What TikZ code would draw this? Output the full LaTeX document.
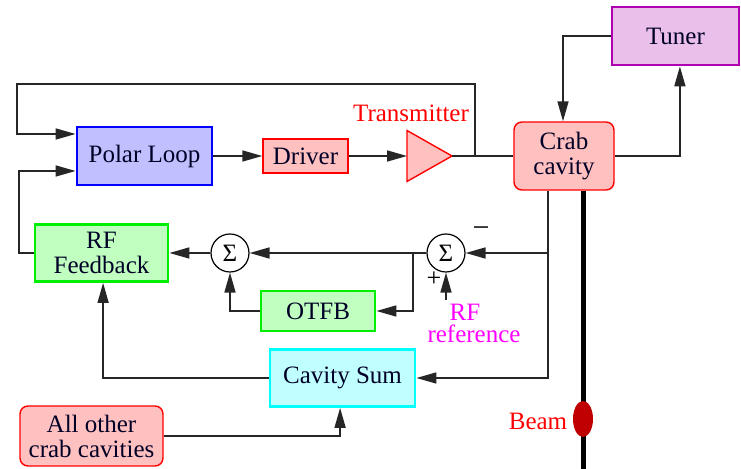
\documentclass[tikz,border=0pt]{standalone}
\usepackage{fontspec}
\setmainfont{Liberation Serif}
\usetikzlibrary{arrows.meta,shapes.geometric}
\definecolor{pinkfill}{HTML}{FFC0C0}
\definecolor{lavfill}{HTML}{C0C0FF}
\definecolor{tunfill}{HTML}{EAC0EA}
\definecolor{tundraw}{HTML}{B000B0}
\definecolor{grnfill}{HTML}{C0FFC0}
\definecolor{grndraw}{HTML}{00EE00}
\definecolor{cyfill}{HTML}{C0FFFF}
\definecolor{cydraw}{HTML}{00FFFF}
\definecolor{beamred}{HTML}{C00000}
\definecolor{refmag}{HTML}{FF00FF}
\begin{document}
\begin{tikzpicture}[x=0.5pt,y=-0.5pt,
  box/.style={draw, inner sep=0pt, align=center, font=\fontsize{12.5}{12.5}\selectfont, text=black!85!blue},
  arr/.style={-{Triangle[length=10pt,width=5.5pt]}, line width=0.8pt, black!85},
  ln/.style={line width=0.8pt, black!85},
  sig/.style={circle, draw, fill=white, line width=0.6pt, minimum size=19pt, inner sep=0pt, font=\fontsize{12.5}{12.5}\selectfont}]
\useasboundingbox (0,0) rectangle (741,469);
% boxes
\node[box, fill=lavfill, draw=blue, line width=1.4pt, minimum width=67.5pt, minimum height=29pt] (polar) at (144.5,156) {Polar Loop};
\node[box, fill=pinkfill, draw=red, line width=0.7pt, minimum width=42.5pt, minimum height=17pt] (driver) at (305.5,156) {Driver};
\node[box, fill=pinkfill, draw=red, line width=0.7pt, rounded corners=4pt, minimum width=50pt, minimum height=34pt] (crab) at (564,156) {Crab\\cavity};
\node[box, fill=tunfill, draw=tundraw, line width=1.4pt, minimum width=63.5pt, minimum height=29pt] (tuner) at (675.5,36) {Tuner};
\node[box, fill=grnfill, draw=grndraw, line width=1.4pt, minimum width=66.5pt, minimum height=28.5pt] (rffb) at (101.5,253) {RF\\Feedback};
\node[box, fill=grnfill, draw=grndraw, line width=1.4pt, minimum width=57pt, minimum height=20pt] (otfb) at (318,311) {OTFB};
\node[box, fill=cyfill, draw=cydraw, line width=1.4pt, minimum width=72.5pt, minimum height=28.5pt] (cavsum) at (342.5,378) {Cavity Sum};
\node[box, fill=pinkfill, draw=red, line width=0.7pt, rounded corners=4pt, minimum width=71.5pt, minimum height=30pt] (other) at (91.5,436) {All other\\crab cavities};
\node[sig] (sig1) at (230,253) {Σ};
\node[sig] (sig2) at (446,253) {Σ};
% transmitter
\coordinate (tin) at (407,156);
\coordinate (tout) at (452,156);
\draw[fill=pinkfill, draw=red, line width=0.7pt] (407,130.5) -- (452,156) -- (407,181.5) -- cycle;
\node[text=red, font=\fontsize{12.5}{12.5}\selectfont] (txlabel) at (411,113) {Transmitter};
% labels
\node[font=\fontsize{15}{15}\selectfont] (minus) at (481,232) {−};
\node[font=\fontsize{13}{13}\selectfont] (plus) at (434,279) {+};
\node[text=refmag, align=center, inner sep=0pt, font=\fontsize{12.5}{11}\selectfont] (rfreflabel) at (474,323.5) {RF\hspace*{9pt}\\reference};
% beam
\draw[line width=2.5pt] ([xshift=9.5pt]crab.south) -- (583,469);
\node[ellipse, fill=beamred, minimum width=10pt, minimum height=18pt, inner sep=0pt] (beam) at (583,419) {};
\node[text=red, font=\fontsize{12.5}{12.5}\selectfont] (beamlabel) at (538,421) {Beam};
% connectors
\coordinate (y134) at (0,134);
\coordinate (y171) at (0,171);
\coordinate (j1) at (475,156);
\coordinate (b2) at (548,253);
\coordinate (b3) at (413,253);
\coordinate (rfref) at (446,300);
\coordinate (l17) at (17,84);
\coordinate (l19) at (19,253);
\draw[arr] (polar) -- (driver);
\draw[arr] (driver) -- (tin);
\draw[ln] (tout) -- (crab.west);
\draw[arr] (j1) |- (l17) |- (polar.west |- y134);
\draw[arr] (tuner.west) -| ([xshift=-0.5pt]crab.north);
\draw[arr] (crab.east) -| ([xshift=2.2pt]tuner.south);
\draw[arr] ([xshift=-8pt]crab.south) |- (cavsum.east);
\draw[arr] (b2) -- (sig2.east);
\draw[arr] (sig2.west) -- (sig1.east);
\draw[arr] (b3) |- (otfb.east);
\draw[arr] (otfb.west) -| (sig1.south);
\draw[arr] (sig1.west) -- (rffb.east);
\draw[arr] (rffb.west) -- (l19) |- (polar.west |- y171);
\draw[arr] (cavsum.west) -| ([xshift=0.8pt]rffb.south);
\draw[arr] (other.east) -| ([xshift=-1.2pt]cavsum.south);
\draw[arr] (rfref) -- (sig2.south);
\end{tikzpicture}
\end{document}
